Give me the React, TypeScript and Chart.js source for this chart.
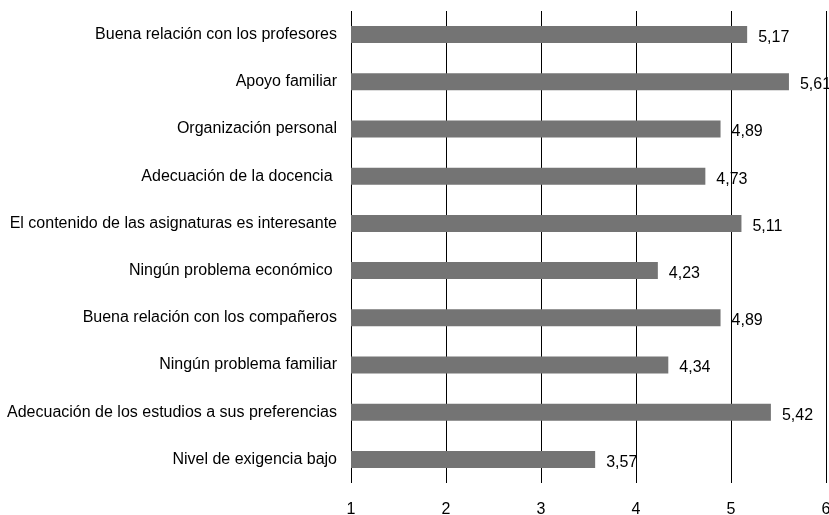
import React, { useEffect, useRef } from "react";
import { Chart, registerables } from "chart.js";

Chart.register(...registerables);

const categories = [
  "Buena relación con los profesores",
  "Apoyo familiar",
  "Organización personal",
  "Adecuación de la docencia ",
  "El contenido de las asignaturas es interesante",
  "Ningún problema económico ",
  "Buena relación con los compañeros",
  "Ningún problema familiar",
  "Adecuación de los estudios a sus preferencias",
  "Nivel de exigencia bajo",
];

const values = [5.17, 5.61, 4.89, 4.73, 5.11, 4.23, 4.89, 4.34, 5.42, 3.57];

const xMin = 1;
const xMax = 6;

const FONT = "'Liberation Sans', Arial, Helvetica, sans-serif";
const FS = 16;

const valueLabels = {
  id: "valueLabels",
  afterDatasetsDraw(chart: any) {
    const ctx = chart.ctx;
    const meta = chart.getDatasetMeta(0);
    ctx.save();
    ctx.font = `${FS}px ${FONT}`;
    ctx.fillStyle = "#000";
    ctx.textAlign = "left";
    ctx.textBaseline = "middle";
    meta.data.forEach((bar: any, i: number) => {
      const txt = values[i].toFixed(2).replace(".", ",");
      ctx.fillText(txt, bar.x + 11, bar.y + 3);
    });
    ctx.restore();
  },
};

export default function App() {
  const ref = useRef<HTMLCanvasElement>(null);
  useEffect(() => {
    document.body.style.margin = "0";
    const chart = new Chart(ref.current!, {
      type: "bar",
      data: {
        labels: categories,
        datasets: [
          {
            data: values,
            backgroundColor: "#747474",
            borderWidth: 0,
            barPercentage: 0.36,
            categoryPercentage: 1,
          },
        ],
      },
      options: {
        indexAxis: "y",
        animation: false,
        responsive: false,
        maintainAspectRatio: false,
        layout: { padding: { top: 11, right: 3, left: 0, bottom: 0 } },
        plugins: { legend: { display: false }, tooltip: { enabled: false } },
        scales: {
          x: {
            min: xMin,
            max: xMax,
            ticks: {
              stepSize: 1,
              color: "#000",
              font: { family: FONT, size: FS },
              padding: 17,
            },
            grid: { color: "#000", lineWidth: 1, drawTicks: false },
            border: { display: false },
            afterFit(scale: any) {
              scale.height = 32;
              scale.paddingRight = 0;
              scale.paddingLeft = 0;
            },
          },
          y: {
            ticks: {
              color: "#000",
              font: { family: FONT, size: FS },
              padding: 6,
            },
            grid: { display: false },
            border: { display: false },
            afterFit(scale: any) {
              scale.width = 351;
              scale.paddingTop = 0;
              scale.paddingBottom = 0;
            },
          },
        },
      },
      plugins: [valueLabels],
    });
    return () => chart.destroy();
  }, []);
  return (
    <div style={{ position: "absolute", left: 0, top: 0, width: 829, height: 515 }}>
      <canvas ref={ref} width={829} height={515} />
    </div>
  );
}
